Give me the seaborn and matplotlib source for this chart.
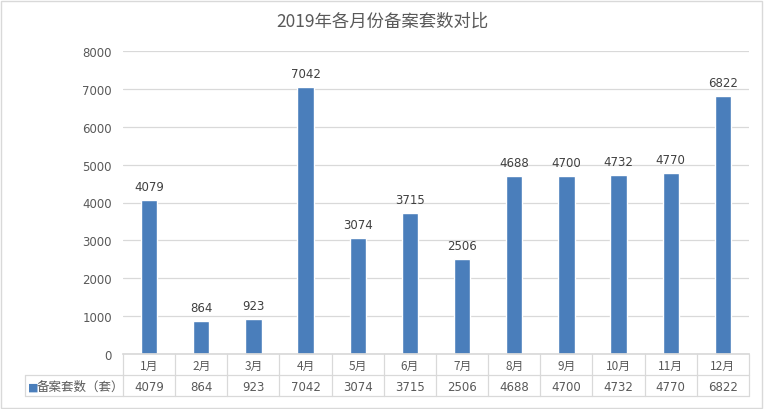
import matplotlib
matplotlib.use("Agg")
import matplotlib.pyplot as plt
import matplotlib.transforms as mtrans
from matplotlib.patches import Rectangle
import seaborn as sns
import pandas as pd

months = ["1月", "2月", "3月", "4月", "5月", "6月", "7月", "8月", "9月", "10月", "11月", "12月"]
counts = [4079, 864, 923, 7042, 3074, 3715, 2506, 4688, 4700, 4732, 4770, 6822]
series_name = "备案套数（套）"
title = "2019年各月份备案套数对比"
yticks = [0, 1000, 2000, 3000, 4000, 5000, 6000, 7000, 8000]

sns.set_theme(style="white")
plt.rcParams["font.family"] = ["Noto Sans CJK SC", "DejaVu Sans"]

BLUE = "#4a7ebb"
GRID = "#d9d9d9"
TXT = "#595959"

W, H = 764, 410
fig = plt.figure(figsize=(W / 100, H / 100), dpi=100)
L, R, B, T = 123, 749, 355, 52
ax = fig.add_axes([L / W, 1 - B / H, (R - L) / W, (B - T) / H])

df = pd.DataFrame({"month": months, "count": counts})
sns.barplot(data=df, x="month", y="count", color=BLUE, saturation=1, width=0.31, ax=ax)
ax.set_xlim(-0.5, len(months) - 0.5)
ax.set_ylim(0, 8000)
ax.set_yticks(yticks)
ax.set_yticklabels([str(v) for v in yticks], color=TXT, fontsize=8.5, family="DejaVu Sans")
ax.tick_params(axis="y", length=0, pad=8)
ax.set_xticks([])
ax.set_xlabel("")
ax.set_ylabel("")
ax.yaxis.grid(True, color=GRID, linewidth=0.9)
ax.set_axisbelow(True)
for s in ["left", "right", "top"]:
    ax.spines[s].set_visible(False)
ax.spines["bottom"].set_color(GRID)

for c in ax.containers:
    ax.bar_label(c, labels=[str(v) for v in counts], padding=5, color="#404040", fontsize=8.5,
                 family="DejaVu Sans")

fig.text(0.5, 1 - 22 / H, title, ha="center", va="center", fontsize=12.5, color=TXT)

# data table below the axes
bt = mtrans.blended_transform_factory(ax.transData, fig.transFigure)
fy = lambda py: 1 - py / H
row1, row2, row3 = 355, 376, 397
tbl_left = 25
for py in (row2, row3):
    fig.add_artist(plt.Line2D([tbl_left / W, R / W], [fy(py), fy(py)], color=GRID, lw=0.9,
                              transform=fig.transFigure))
fig.add_artist(plt.Line2D([tbl_left / W, tbl_left / W], [fy(row2), fy(row3)], color=GRID, lw=0.9,
                          transform=fig.transFigure))
for i in range(len(months) + 1):
    xb = i - 0.5
    fig.add_artist(plt.Line2D([xb, xb], [fy(row1), fy(row3)], color=GRID, lw=0.9, transform=bt))
for i, (m, v) in enumerate(zip(months, counts)):
    fig.text(i, fy((row1 + row2) / 2 + 1), m, transform=bt, ha="center", va="center",
             fontsize=8.5, color=TXT)
    fig.text(i, fy((row2 + row3) / 2 + 1), str(v), transform=bt, ha="center", va="center",
             fontsize=8.5, color=TXT, family="DejaVu Sans")
fig.text(28 / W, fy((row2 + row3) / 2 + 1), "■", ha="left", va="center", fontsize=8, color=BLUE,
         family="DejaVu Sans")
fig.text(37 / W, fy((row2 + row3) / 2 + 1), series_name, ha="left", va="center", fontsize=9, color=TXT)

fig.add_artist(Rectangle((1 / W, 1 / H), (W - 3) / W, (H - 3) / H, transform=fig.transFigure,
                         fill=False, edgecolor="#d9d9d9", lw=1))

fig.savefig("out.png", dpi=100, facecolor="white")
